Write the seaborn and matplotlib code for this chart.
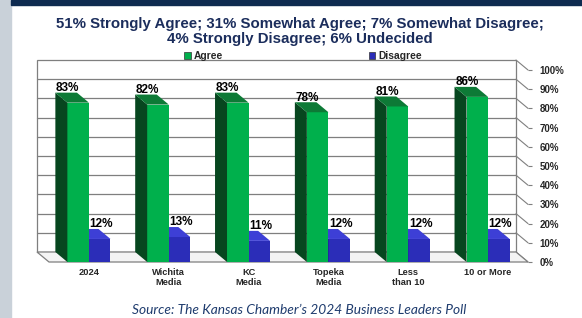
import pandas as pd
import matplotlib.pyplot as plt
import seaborn as sns
from matplotlib.patches import Polygon, Rectangle

categories = ["2024", "Wichita\nMedia", "KC\nMedia", "Topeka\nMedia", "Less\nthan 10", "10 or More"]
agree = [83, 82, 83, 78, 81, 86]
disagree = [12, 13, 11, 12, 12, 12]
series = ["Agree", "Disagree"]
yticks = [0, 10, 20, 30, 40, 50, 60, 70, 80, 90, 100]

title = "51% Strongly Agree; 31% Somewhat Agree; 7% Somewhat Disagree;\n4% Strongly Disagree; 6% Undecided"
source = "Source: The Kansas Chamber\u2019s 2024 Business Leaders Poll"

green, green_side, green_top = "#00b04c", "#07461f", "#0d7a36"
blue, blue_side, blue_top = "#2b2db8", "#1a1a82", "#3d3fd6"
navy = "#1b2d5c"
grid = "#7f7f7f"

sns.set_style("white")
plt.rcParams["font.family"] = ["Liberation Sans", "DejaVu Sans"]

W, H = 582, 318
fig = plt.figure(figsize=(W / 100, H / 100), dpi=100)
fig.patch.set_facecolor("white")

# page decoration: grey strip on the left, navy band on top
fig.patches.append(Rectangle((0, 0), 11 / W, 1, transform=fig.transFigure, color="#c9d1d9", zorder=0))
fig.patches.append(Rectangle((11 / W, 1 - 5 / H), 1, 5 / H, transform=fig.transFigure, color="#0e2b50", zorder=0))

ax = fig.add_axes([49 / W, 56 / H, 479 / W, 192 / H])

df = pd.DataFrame({
    "group": categories * 2,
    "series": [series[0]] * len(agree) + [series[1]] * len(disagree),
    "value": agree + disagree,
})
sns.barplot(data=df, x="group", y="value", hue="series", palette=[green, blue],
            width=0.54, saturation=1, ax=ax, edgecolor="none", linewidth=0)
ax.set_xlim(-0.5, len(categories) - 0.5)
ax.set_ylim(0, 100)

# depth offset of the fake 3D (12 px left, 10 px up) in data units
px_x = 479 / len(categories)
px_y = 192 / 100
dx, dy = -12 / px_x, 10 / px_y
x_lo, x_hi = -0.5, len(categories) - 0.5

# back wall, floor and side gridlines
ax.add_patch(Polygon([(x_lo + dx, dy), (x_hi + dx, dy), (x_hi + dx, 100 + dy), (x_lo + dx, 100 + dy)],
                     facecolor="white", edgecolor=grid, lw=0.9, zorder=0, clip_on=False))
for t in yticks[1:-1]:
    ax.plot([x_lo + dx, x_hi + dx], [t + dy, t + dy], color=grid, lw=0.9, zorder=0.5, clip_on=False)
for t in yticks:
    ax.plot([x_hi + dx, x_hi], [t + dy, t], color=grid, lw=0.8, zorder=0.5, clip_on=False)
ax.add_patch(Polygon([(x_lo, 0), (x_hi, 0), (x_hi + dx, dy), (x_lo + dx, dy)],
                     facecolor="#f4f4f4", edgecolor=grid, lw=0.9, zorder=1, clip_on=False))

# side and top faces of each bar, plus value labels
for k, cont in enumerate(ax.containers):
    side_c = [green_side, blue_side][k]
    top_c = [green_top, blue_top][k]
    z = 4 - k
    for bar in cont:
        bar.set_zorder(z)
        x0 = bar.get_x()
        x1 = x0 + bar.get_width()
        h = bar.get_height()
        ax.add_patch(Polygon([(x0, 0), (x0, h), (x0 + dx, h + dy), (x0 + dx, dy)],
                             facecolor=side_c, edgecolor="none", zorder=z, clip_on=False))
        ax.add_patch(Polygon([(x0, h), (x1, h), (x1 + dx, h + dy), (x0 + dx, h + dy)],
                             facecolor=top_c, edgecolor="none", zorder=z, clip_on=False))
        lx = (x0 + x1) / 2 + (-0.13 if k == 0 else 0.02)
        ax.text(lx, h + 7.6, f"{h:.0f}%", ha="center", va="center",
                fontsize=8.5, fontweight="bold", color="black", zorder=6, clip_on=False)

for s in ax.spines.values():
    s.set_visible(False)
ax.set_xlabel("")
ax.set_ylabel("")

ax.yaxis.tick_right()
ax.set_yticks(yticks)
ax.set_yticklabels([f"{t}%" for t in yticks], fontsize=7, fontweight="bold")
ax.tick_params(axis="y", length=3, color=grid, pad=5.5, width=0.8)

ax.set_xticks(range(len(categories)))
ax.set_xticklabels(categories, fontsize=6.7, fontweight="bold", linespacing=1.1)
ax.tick_params(axis="x", length=0, pad=4.5)
ax.set_xticks([i + 0.5 for i in range(len(categories) - 1)], minor=True)
ax.tick_params(axis="x", which="minor", length=2.5, color="#b0b0b0", width=0.6)

# legend above the plot
handles = [Rectangle((0, 0), 1, 1, facecolor=c, edgecolor="#333333", lw=0.5) for c in (green, blue)]
ax.get_legend().remove()
fig.legend(handles, series, loc="center", bbox_to_anchor=(303 / W, 1 - 56 / H), ncol=2,
           frameon=False, handlelength=0.6, handleheight=0.6, handletextpad=0.3,
           columnspacing=14.2, prop={"size": 7.4, "weight": "bold"})

fig.text(300 / W, 1 - 31.5 / H, title, ha="center", va="center", fontsize=10.8,
         fontweight="bold", color=navy, linespacing=1.15)

# no condensed face installed, so a narrow-ish italic at a smaller size
fig.text(299 / W, 1 - 310 / H, source, ha="center", va="center", fontsize=9.9,
         style="italic", color="#1f3c6e", family=["Lato", "DejaVu Sans"])

fig.savefig("out.png", dpi=100)
